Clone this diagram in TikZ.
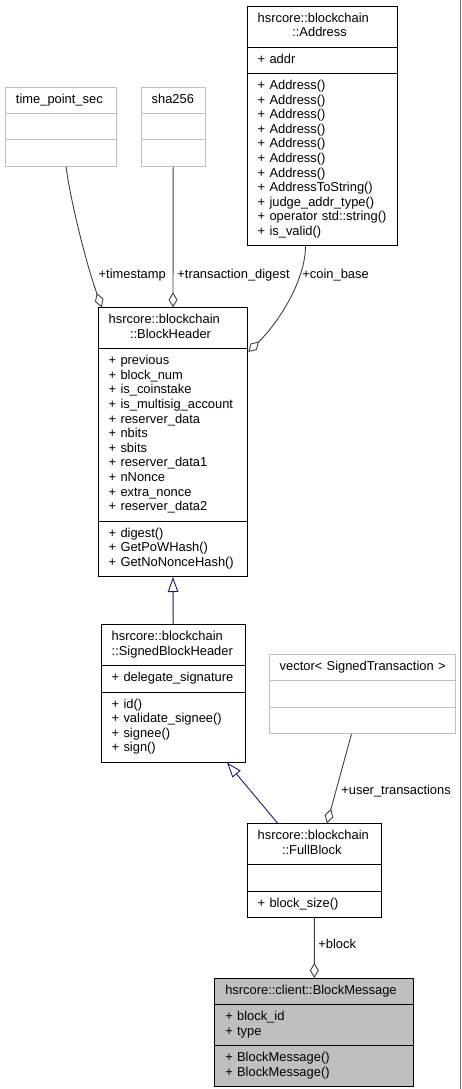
\documentclass[tikz,border=0pt]{standalone}
\usepackage{fontspec}
\setmainfont{Liberation Sans}
\usepackage{tikz}
\usetikzlibrary{arrows.meta,shapes.multipart}
\definecolor{navyedge}{RGB}{25,25,112}
\definecolor{darkedge}{RGB}{64,64,64}
\definecolor{softgray}{RGB}{191,191,191}
\definecolor{framegray}{RGB}{110,110,110}
\hyphenpenalty=10000
\tikzset{
  umlclass/.style={rectangle split,rectangle split parts=3,draw,line width=1pt,fill=white,anchor=north west,align=left,text width=#1,inner xsep=10.5pt,inner ysep=5.35pt,font=\fontsize{12.9}{14.6}\selectfont},
  extclass/.style={umlclass=#1,draw=softgray},
  mainclass/.style={umlclass=#1,fill=softgray},
  aggr/.style={-{Diamond[length=15pt,width=9pt,fill=white]},draw=darkedge,line width=0.9pt},
  inherit/.style={-{Triangle[length=15pt,width=10.5pt,fill=white]},draw=navyedge,line width=0.9pt},
  role/.style={anchor=base west,inner sep=0pt,font=\fontsize{12.9}{14.6}\selectfont}
}
\begin{document}
\begin{tikzpicture}[x=1pt,y=-1pt]
\path[fill=white,use as bounding box] (0,0) rectangle (461,1089);
\draw[framegray,line width=1pt] (460,0) -- (460,1089);
\node[umlclass=129.6pt] (addr) at (246.7,5.7) {\begin{tabular}{@{}l@{}}\strut hsrcore::blockchain\\\hspace*{34.6pt}::Address\strut\end{tabular}
  \nodepart{second}\strut+~addr\strut
  \nodepart{third}\strut+~Address()\\+~Address()\\+~Address()\\+~Address()\\+~Address()\\+~Address()\\+~Address()\\+~AddressToString()\\+~judge\_addr\_type()\\+~operator~std::string()\\+~is\_valid()\strut};
\node[extclass=90pt] (tps) at (5,86.7) {\strut time\_point\_sec\strut
  \nodepart{second}\strut
  \nodepart{third}\strut};
\node[extclass=43pt] (sha) at (140.7,86.7) {\strut sha256\strut
  \nodepart{second}\strut
  \nodepart{third}\strut};
\node[umlclass=128.6pt] (bh) at (97.7,307.3) {\begin{tabular}{@{}l@{}}\strut hsrcore::blockchain\\\hspace*{21.3pt}::BlockHeader\strut\end{tabular}
  \nodepart{second}\strut+~previous\\+~block\_num\\+~is\_coinstake\\+~is\_multisig\_account\\+~reserver\_data\\+~nbits\\+~sbits\\+~reserver\_data1\\+~nNonce\\+~extra\_nonce\\+~reserver\_data2\strut
  \nodepart{third}\strut+~digest()\\+~GetPoWHash()\\+~GetNoNonceHash()\strut};
\node[umlclass=123pt] (sbh) at (100.7,624.3) {\begin{tabular}{@{}l@{}}\strut hsrcore::blockchain\\::SignedBlockHeader\strut\end{tabular}
  \nodepart{second}\strut+~delegate\_signature\strut
  \nodepart{third}\strut+~id()\\+~validate\_signee()\\+~signee()\\+~sign()\strut};
\node[extclass=165.6pt] (vec) at (268.7,654) {\strut vector<~SignedTransaction~>\strut
  \nodepart{second}\strut
  \nodepart{third}\strut};
\node[umlclass=113.3pt] (fb) at (246.7,823.3) {\begin{tabular}{@{}l@{}}\strut hsrcore::blockchain\\\hspace*{24.3pt}::FullBlock\strut\end{tabular}
  \nodepart{second}\strut
  \nodepart{third}\strut+~block\_size()\strut};
\node[mainclass=178pt] (bm) at (214.3,978) {\strut hsrcore::client::BlockMessage\strut
  \nodepart{second}\strut+~block\_id\\+~type\strut
  \nodepart{third}\strut+~BlockMessage()\\+~BlockMessage()\strut};
\draw[aggr] ([xshift=5pt]tps.south) .. controls +(4.3,32.3) and +(-16.7,-47.3) .. ([xshift=4pt]bh.north west);
\draw[aggr] (sha.south) -- (bh.north);
\draw[aggr] ([xshift=-17pt]addr.south) .. controls +(0,32) and +(32.7,-32) .. ([yshift=-44.7pt]bh.north east);
\draw[inherit] (sbh.north) -- (bh.south);
\draw[inherit] ([xshift=31pt]fb.north west) -- ([xshift=-18.7pt]sbh.south east);
\draw[aggr] ([xshift=-11pt]vec.south) -- ([xshift=12.7pt]fb.north);
\draw[aggr] (fb.south) -- (bm.north);
\node[role] (tslabel) at (98.5,278.8) {+timestamp};
\node[role] (digestlabel) at (177.2,278.8) {+transaction\_digest};
\node[role] (coinlabel) at (302.2,278.8) {+coin\_base};
\node[role] (txlabel) at (341.2,794.5) {+user\_transactions};
\node[role] (blocklabel) at (318.2,948.7) {+block};
\end{tikzpicture}
\end{document}
